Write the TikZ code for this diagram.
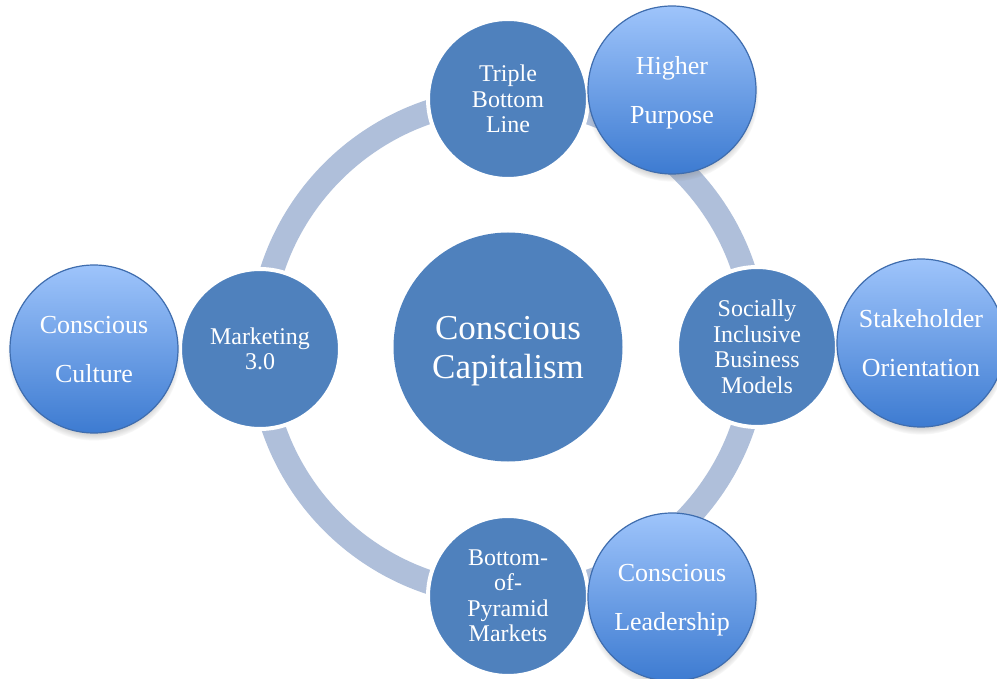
\documentclass[tikz,border=0pt]{standalone}
\usepackage{fontspec}
\setmainfont{Liberation Serif}
\usetikzlibrary{shadows}

\definecolor{hubblue}{HTML}{4F81BD}
\definecolor{ringblue}{HTML}{AFBFDA}
\definecolor{gradtop}{HTML}{9EC4FB}
\definecolor{gradbot}{HTML}{3D7BD1}
\definecolor{gradedge}{HTML}{3F6DAE}

\begin{document}
\begin{tikzpicture}[x=1pt,y=-1pt,
  hub/.style={circle, fill=hubblue, inner sep=0pt, minimum size=229pt,
    text=white, align=center, text depth=0pt,
    font=\fontsize{35}{39}\selectfont},
  spoke/.style={circle, fill=hubblue, draw=white, line width=4pt, inner sep=0pt,
    minimum size=160pt, text=white, align=center,
    font=\fontsize{24}{25.5}\selectfont},
  value/.style={circle, top color=gradtop, bottom color=gradbot, draw=gradedge,
    line width=1.2pt, inner sep=0pt, minimum size=168pt, text=white,
    align=center, text depth=0pt, font=\fontsize{26}{49}\selectfont,
    circular drop shadow={shadow xshift=0pt, shadow yshift=-5pt,
      shadow scale=1.03, opacity=0.6}},
  ring/.style={draw=ringblue, line width=24pt}
]
\useasboundingbox (0,0) rectangle (997,679);
\clip (0,0) rectangle (997,679);
\fill[white] (0,0) rectangle (997,679);

% central hub and the ring that links the four pillars
\node[hub] (hub) at (508,347) {Conscious\\Capitalism};
\path[ring] (hub.center) circle[radius=248];

% four pillars on the ring
\node[spoke] (tbl) at (508,99)  {Triple\\Bottom\\Line};
\node[spoke] (sib) at (757,347) {Socially\\Inclusive\\Business\\Models};
\node[spoke] (bop) at (508,596) {Bottom-\\of-\\Pyramid\\Markets};
\node[spoke] (mkt) at (260,349) {Marketing\\3.0};

% outer tenets
\node[value] (hp)  at (672,90)  {Higher\\Purpose};
\node[value] (so)  at (921,343) {Stakeholder\\Orientation};
\node[value] (cl)  at (672,597) {Conscious\\Leadership};
\node[value] (cc)  at (94,349)  {Conscious\\Culture};
\end{tikzpicture}
\end{document}
